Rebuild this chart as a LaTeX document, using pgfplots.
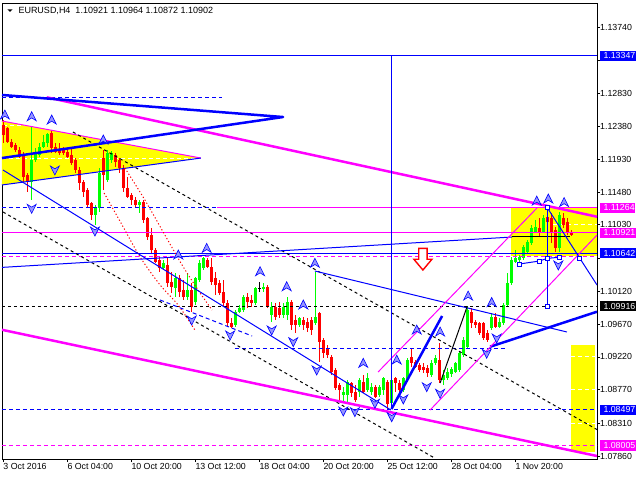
\documentclass[border=0pt]{standalone}
\usepackage{fontspec}
\setmainfont{Liberation Sans}
\usepackage{pgfplots}
\usepackage{pgfplotstable}
\pgfplotsset{compat=1.18}

\definecolor{mtblue}{RGB}{0,0,255}
\definecolor{mtmag}{RGB}{255,0,255}
\definecolor{mtgreen}{RGB}{0,255,0}
\definecolor{mtred}{RGB}{255,0,0}
\definecolor{mtyellow}{RGB}{255,255,0}
\definecolor{fracfill}{RGB}{150,150,255}

% fractal arrows
\pgfdeclareplotmark{fup}{%
  \pgfpathmoveto{\pgfqpoint{0pt}{5pt}}%
  \pgfpathlineto{\pgfqpoint{4.5pt}{-4pt}}%
  \pgfpathlineto{\pgfqpoint{0pt}{-1.2pt}}%
  \pgfpathlineto{\pgfqpoint{-4.5pt}{-4pt}}%
  \pgfpathclose
  \pgfusepathqfillstroke}
\pgfdeclareplotmark{fdown}{%
  \pgfpathmoveto{\pgfqpoint{0pt}{-5pt}}%
  \pgfpathlineto{\pgfqpoint{4.5pt}{4pt}}%
  \pgfpathlineto{\pgfqpoint{0pt}{1.2pt}}%
  \pgfpathlineto{\pgfqpoint{-4.5pt}{4pt}}%
  \pgfpathclose
  \pgfusepathqfillstroke}

% EURUSD H4 bars: index, open, high, low, close
\pgfplotstableread{
i o h l c
0 1.12398 1.12466 1.12151 1.12261
1 1.12356 1.12370 1.12151 1.12164
2 1.12164 1.12206 1.12082 1.12096
3 1.12124 1.12151 1.12028 1.12055
4 1.12055 1.12096 1.11945 1.11959
5 1.11987 1.12028 1.11617 1.11685
6 1.11713 1.11740 1.11480 1.11617
12 1.12288 1.12315 1.12014 1.12082
13 1.12096 1.12151 1.12014 1.12028
14 1.12069 1.12151 1.11987 1.12014
15 1.12069 1.12096 1.11987 1.12014
16 1.12028 1.12082 1.11945 1.11959
17 1.11987 1.12096 1.11850 1.11877
18 1.11918 1.11945 1.11740 1.11781
19 1.11781 1.11822 1.11507 1.11603
20 1.11617 1.11644 1.11411 1.11480
21 1.11507 1.11534 1.11274 1.11302
22 1.11329 1.11343 1.11096 1.11165
25 1.11945 1.12055 1.11507 1.11713
28 1.11987 1.12014 1.11822 1.11891
29 1.11918 1.11945 1.11740 1.11808
30 1.11808 1.11850 1.11480 1.11534
31 1.11534 1.11685 1.11397 1.11411
32 1.11439 1.11466 1.11302 1.11370
33 1.11370 1.11411 1.11274 1.11302
35 1.11343 1.11370 1.11055 1.11096
36 1.11124 1.11137 1.10822 1.10864
37 1.10891 1.10987 1.10644 1.10685
38 1.10685 1.10713 1.10507 1.10521
39 1.10548 1.10590 1.10384 1.10439
41 1.10480 1.10590 1.10179 1.10233
42 1.10247 1.10384 1.10096 1.10179
44 1.10302 1.10343 1.10042 1.10110
45 1.10137 1.10274 1.10000 1.10042
47 1.10137 1.10233 1.09836 1.09904
51 1.10548 1.10576 1.10439 1.10453
52 1.10453 1.10576 1.10206 1.10247
53 1.10302 1.10384 1.10069 1.10206
54 1.10233 1.10274 1.10069 1.10096
55 1.10110 1.10274 1.09904 1.09959
56 1.09959 1.10000 1.09630 1.09685
57 1.09685 1.09753 1.09616 1.09630
61 1.10042 1.10096 1.09891 1.09973
62 1.10000 1.10069 1.09904 1.09959
66 1.10179 1.10206 1.09891 1.09904
68 1.09904 1.09959 1.09726 1.09767
69 1.09891 1.09973 1.09753 1.09795
72 1.09973 1.10000 1.09589 1.09658
73 1.09726 1.09795 1.09548 1.09658
75 1.09726 1.09767 1.09589 1.09658
76 1.09699 1.09753 1.09562 1.09616
77 1.09726 1.09767 1.09521 1.09589
79 1.09822 1.09836 1.09151 1.09425
80 1.09452 1.09479 1.09205 1.09274
81 1.09342 1.09384 1.09205 1.09247
82 1.09219 1.09247 1.08973 1.09014
83 1.09041 1.09068 1.08767 1.08794
84 1.08836 1.08863 1.08603 1.08767
87 1.08863 1.08877 1.08671 1.08726
88 1.08740 1.08836 1.08603 1.08630
90 1.08877 1.08973 1.08726 1.08740
93 1.08808 1.08836 1.08657 1.08671
96 1.08877 1.08904 1.08493 1.08575
98 1.08931 1.08945 1.08740 1.08863
99 1.08863 1.08904 1.08740 1.08767
102 1.09219 1.09342 1.09082 1.09137
103 1.09151 1.09178 1.09068 1.09082
104 1.09110 1.09137 1.09014 1.09041
105 1.09082 1.09137 1.09000 1.09041
106 1.09068 1.09110 1.08945 1.09000
109 1.09178 1.09411 1.08863 1.08904
117 1.09836 1.09891 1.09616 1.09685
118 1.09699 1.09726 1.09616 1.09658
119 1.09685 1.09699 1.09521 1.09548
120 1.09685 1.09699 1.09452 1.09479
121 1.09548 1.09589 1.09425 1.09452
123 1.09767 1.09822 1.09616 1.09630
134 1.10987 1.11124 1.10864 1.10918
136 1.11137 1.11264 1.11055 1.11069
137 1.11124 1.11192 1.10781 1.10918
138 1.10959 1.11001 1.10658 1.10713
140 1.11124 1.11192 1.10987 1.11028
141 1.11069 1.11124 1.10891 1.10932
142 1.10921 1.10964 1.10872 1.10902
}\bear

\pgfplotstableread{
i o h l c
7 1.11617 1.12370 1.11370 1.11918
8 1.11918 1.12082 1.11891 1.12028
9 1.11987 1.12151 1.11959 1.12096
10 1.12096 1.12261 1.12082 1.12164
11 1.12151 1.12288 1.12096 1.12274
23 1.11165 1.11302 1.11028 1.11274
24 1.11260 1.11808 1.11206 1.11740
26 1.11644 1.12055 1.11617 1.12014
27 1.11918 1.12041 1.11877 1.12014
34 1.11302 1.11370 1.11192 1.11343
40 1.10439 1.10548 1.10411 1.10507
43 1.10165 1.10370 1.10042 1.10302
46 1.10042 1.10370 1.10000 1.10137
48 1.09973 1.10316 1.09932 1.10302
49 1.10274 1.10548 1.10247 1.10507
50 1.10439 1.10590 1.10411 1.10576
58 1.09658 1.09863 1.09630 1.09836
59 1.09836 1.09932 1.09822 1.09891
60 1.09863 1.10069 1.09836 1.10042
63 1.09959 1.10179 1.09932 1.10165
65 1.10151 1.10233 1.10110 1.10179
67 1.09795 1.09973 1.09699 1.09904
70 1.09795 1.09959 1.09753 1.09904
71 1.09795 1.10042 1.09726 1.09973
74 1.09658 1.09767 1.09630 1.09753
78 1.09685 1.10384 1.09658 1.09767
85 1.08699 1.08808 1.08589 1.08740
86 1.08699 1.08904 1.08603 1.08877
89 1.08740 1.08931 1.08671 1.08904
91 1.08767 1.09000 1.08740 1.08931
92 1.08740 1.08863 1.08699 1.08808
94 1.08699 1.08836 1.08671 1.08808
95 1.08767 1.08945 1.08699 1.08931
97 1.08589 1.08945 1.08520 1.08904
100 1.08767 1.08945 1.08740 1.08931
101 1.08904 1.09205 1.08877 1.09178
107 1.08973 1.09178 1.08945 1.09137
108 1.09137 1.09247 1.09110 1.09205
110 1.08904 1.09041 1.08836 1.08973
111 1.08931 1.09068 1.08904 1.09014
112 1.08986 1.09082 1.08945 1.09055
113 1.09014 1.09151 1.09000 1.09137
114 1.09041 1.09288 1.09014 1.09274
115 1.09247 1.09493 1.09219 1.09452
116 1.09356 1.09916 1.09342 1.09863
122 1.09616 1.09822 1.09589 1.09767
124 1.09630 1.09753 1.09616 1.09699
125 1.09685 1.09959 1.09658 1.09932
126 1.09932 1.10370 1.09904 1.10233
127 1.10233 1.10590 1.10206 1.10548
128 1.10521 1.10685 1.10507 1.10576
129 1.10548 1.10617 1.10521 1.10590
130 1.10576 1.10754 1.10548 1.10727
131 1.10658 1.10822 1.10644 1.10795
132 1.10781 1.11028 1.10754 1.10987
133 1.10932 1.11096 1.10918 1.11001
135 1.10932 1.11165 1.10918 1.11124
139 1.10713 1.11206 1.10658 1.11165
}\bull

\pgfplotstableread{
i o h l c
64 1.10165 1.10247 1.10110 1.10165
}\doji

% wick and body of every bar in a table
\newcommand{\candles}[2]{%
  \addplot[draw=none, mark=none, forget plot,
    error bars/.cd, y dir=both, y explicit, error mark=none,
    error bar style={draw=#2, solid, line width=1pt}]
    table[x=i, y expr={(\thisrow{h}+\thisrow{l})/2},
          y error expr={(\thisrow{h}-\thisrow{l})/2}] {#1};
  \addplot[draw=none, mark=none, forget plot,
    error bars/.cd, y dir=both, y explicit, error mark=none,
    error bar style={draw=#2, solid, line width=3pt}]
    table[x=i, y expr={(\thisrow{o}+\thisrow{c})/2},
          y error expr={max(abs(\thisrow{c}-\thisrow{o})/2,0.00004)}] {#1};
}

\newcommand{\lbl}[3]{% price tag on the scale
  \node[fill=#2, text=white, anchor=west, inner sep=0pt, minimum height=10.3pt,
        font=\fontsize{8.8}{10}\selectfont, xshift=2.3pt]
    at (axis cs:148.425,#1) {\hspace*{4pt}#3\hspace*{0.6pt}};}

\begin{document}
\begin{tikzpicture}
\path[use as bounding box] (0,0) rectangle (640pt,480pt);
\begin{axis}[
  at={(2pt,21pt)}, anchor=south west,
  scale only axis, width=595pt, height=456pt,
  xmin=-0.325, xmax=148.425, ymin=1.07822, ymax=1.14069,
  clip mode=individual,
  axis line style={black, line width=0.8pt},
  xtick pos=left, ytick pos=right, yticklabel pos=right,
  tick align=outside, major tick length=3pt,
  tick style={black, line width=0.8pt},
  scaled y ticks=false,
  xtick={0,16,32,48,64,80,96,112,128},
  xticklabels={3 Oct 2016, 6 Oct 04:00, 10 Oct 20:00, 13 Oct 12:00, 18 Oct 04:00, 20 Oct 20:00, 25 Oct 12:00, 28 Oct 04:00, 1 Nov 20:00},
  ytick={1.07860,1.08310,1.08770,1.09220,1.09670,1.10120,1.10570,1.11030,1.11480,1.11930,1.12380,1.12830,1.13280,1.13740},
  yticklabels={1.07860,1.08310,1.08770,1.09220,1.09670,1.10120,{},1.11030,1.11480,1.11930,1.12380,1.12830,{},1.13740},
  ticklabel style={font=\fontsize{8.8}{10}\selectfont},
  xticklabel style={anchor=north west, inner sep=0pt, yshift=-1pt},
  yticklabel style={anchor=west, inner sep=0pt},
]
% yellow zones
\addplot[fill=mtyellow, draw=none, forget plot] coordinates {(-0.325,1.12452) (49.4,1.11945) (-0.325,1.11576)} -- cycle;
\addplot[fill=mtyellow, draw=none, forget plot] coordinates {(126.9,1.11264) (148.425,1.11264) (148.425,1.10600) (126.9,1.10600)} -- cycle;
\addplot[fill=mtyellow, draw=none, forget plot] coordinates {(141.9,1.09384) (148.0,1.09384) (148.0,1.07922) (141.9,1.07922)} -- cycle;
\addplot[white, dash pattern=on 4pt off 3pt, line width=1pt] coordinates {(-0.325,1.11941) (47.9,1.11941)};
\addplot[white, dash pattern=on 4pt off 3pt, line width=1pt] coordinates {(-0.075,1.12384) (9.2,1.12384)};
\addplot[white, dash pattern=on 4pt off 3pt, line width=1pt] coordinates {(137.4,1.11028) (148.425,1.11028)};
\addplot[white, dash pattern=on 4pt off 3pt, line width=1pt] coordinates {(141.9,1.09220) (148.0,1.09220)};
\addplot[white, dash pattern=on 4pt off 3pt, line width=1pt] coordinates {(141.9,1.08770) (148.0,1.08770)};
\addplot[white, dash pattern=on 4pt off 3pt, line width=1pt] coordinates {(141.9,1.08310) (148.0,1.08310)};

% bars
\candles{\bear}{mtred}
\candles{\bull}{mtgreen}
\candles{\doji}{black}

% horizontal levels
\addplot[mtblue, line width=1pt] coordinates {(-0.325,1.13347) (148.425,1.13347)};
\addplot[mtblue, dash pattern=on 4pt off 3pt, line width=1pt] coordinates {(-0.325,1.12777) (54.6,1.12777)};
\addplot[mtblue, dash pattern=on 4pt off 3pt, line width=1pt] coordinates {(-0.325,1.11264) (107.2,1.11264)};
\addplot[mtmag, line width=1pt] coordinates {(53.4,1.11264) (148.425,1.11264)};
\addplot[mtmag, line width=1pt] coordinates {(-0.325,1.10921) (148.425,1.10921)};
\addplot[mtblue, line width=1pt] coordinates {(-0.325,1.10642) (148.425,1.10642)};
\addplot[mtmag, dash pattern=on 4pt off 3pt, line width=1pt] coordinates {(-0.325,1.10603) (148.425,1.10603)};
\addplot[black, dash pattern=on 3pt off 3pt, line width=1pt] coordinates {(-0.325,1.09916) (148.425,1.09916)};
\addplot[mtblue, dash pattern=on 4pt off 3pt, line width=1pt] coordinates {(57.9,1.09336) (125.9,1.09336)};
\addplot[mtblue, dash pattern=on 4pt off 3pt, line width=1pt] coordinates {(-0.325,1.08497) (148.425,1.08497)};
\addplot[mtmag, dash pattern=on 4pt off 3pt, line width=1pt] coordinates {(-0.325,1.08005) (148.425,1.08005)};

% triangle edges
\addplot[mtmag, line width=1pt] coordinates {(-0.325,1.12452) (49.4,1.11945)};
\addplot[mtblue, line width=1pt] coordinates {(-0.325,1.11576) (49.4,1.11945)};

% black dashed channel
\addplot[black, dash pattern=on 3pt off 3pt, line width=1pt] coordinates {(17.4,1.12302) (148.425,1.08225)};
\addplot[black, dash pattern=on 3pt off 3pt, line width=1pt] coordinates {(-0.075,1.11206) (108,1.07830)};

% red dotted arcs
\addplot[mtred, dash pattern=on 1.2pt off 2.2pt, line width=1pt, smooth] coordinates {(25.2,1.11466) (29.7,1.11028) (34.2,1.10589) (39.2,1.10206) (43.7,1.09932) (47.9,1.09589)};
\addplot[mtred, dash pattern=on 1.2pt off 2.2pt, line width=1pt, smooth] coordinates {(30.4,1.11808) (35.4,1.11370) (40.4,1.10890) (44.7,1.10480) (48.7,1.10137) (52.2,1.09863)};
\addplot[mtblue, dash pattern=on 4pt off 3pt, line width=1pt] coordinates {(39.2,1.10000) (62.2,1.09507)};

% trend lines
\addplot[mtmag, line width=2.5pt] coordinates {(10.85,1.12777) (148.425,1.11141)};
\addplot[mtmag, line width=2.5pt] coordinates {(-0.325,1.09592) (148.425,1.07863)};
\addplot[mtblue, line width=2.5pt, line join=round] coordinates {(-0.325,1.12809) (69.93,1.12507) (-0.325,1.11945)};
\addplot[mtblue, line width=1pt] coordinates {(-0.325,1.10447) (127.2,1.10863)};
\addplot[black, line width=1pt] coordinates {(127.2,1.10870) (141.7,1.10870)};
\addplot[mtblue, line width=1pt] coordinates {(-0.075,1.11781) (96.9,1.08493)};
\addplot[mtblue, line width=1pt] coordinates {(77.9,1.10397) (140.9,1.09562)};
\addplot[mtblue, line width=2.5pt] coordinates {(121.7,1.09360) (148.425,1.09840)};
\addplot[mtblue, line width=2.5pt] coordinates {(97.05,1.08507) (109.7,1.09781)};
\addplot[black, line width=1pt] coordinates {(109.2,1.08863) (116,1.09916)};
\addplot[mtmag, line width=1pt] coordinates {(93.7,1.09014) (133.4,1.11260)};
\addplot[mtmag, line width=1pt] coordinates {(106.7,1.08493) (148.425,1.10890)};
\addplot[mtblue, line width=1pt] coordinates {(97.05,1.13347) (97.05,1.08520)};

% last swing structure
\addplot[mtblue, line width=1pt] coordinates {(136,1.11264) (136,1.09916)};
\addplot[mtblue, line width=1pt] coordinates {(136,1.11264) (148.425,1.10206)};
\addplot[mtblue, line width=1pt] coordinates {(129,1.10493) (134,1.10534) (136,1.10571) (139,1.10585)};
\addplot[only marks, mark=square*, mark size=2pt, mark options={fill=white, draw=mtblue, line width=0.8pt}] coordinates {(136,1.11264) (136,1.10571) (136,1.09916) (129,1.10493) (134,1.10534) (139,1.10585) (144,1.10571)};

% fractals
\addplot[only marks, mark=fup, mark options={fill=fracfill, draw=mtblue, line width=0.6pt}] coordinates {
(0.4,1.12535) (7.1,1.12511) (12.1,1.12466) (25.0,1.12192) (43.75,1.10617) (50.85,1.10708)
(64.2,1.10388) (70.85,1.10182) (77.9,1.10503) (75.0,1.09932) (90.0,1.09133) (98.35,1.09178)
(103.35,1.09589) (109.2,1.09562) (116.2,1.10055) (122.1,1.09966) (133.35,1.11356) (136.25,1.11384) (140.2,1.11336)};
\addplot[only marks, mark=fdown, mark options={fill=fracfill, draw=mtblue, line width=0.6pt}] coordinates {
(7.1,1.11256) (12.9,1.11781) (22.9,1.10945) (47.1,1.09726) (56.7,1.09521) (67.1,1.09589)
(72.5,1.09429) (78.35,1.09041) (85.0,1.08479) (87.9,1.08470) (92.9,1.08585) (97.1,1.08401)
(100.0,1.08644) (105.85,1.08812) (109.2,1.08722) (120.85,1.09270) (123.35,1.09479) (138.75,1.10480)};

% sell signal arrow
\addplot[mtred, fill=white, line width=1.4pt] coordinates {(103.85,1.10708) (105.95,1.10708) (105.95,1.10558) (107.15,1.10558) (104.9,1.10411) (102.65,1.10558) (103.85,1.10558)} -- cycle;

% price tags
\lbl{1.13347}{mtblue}{1.13347}
\lbl{1.11264}{mtmag}{1.11264}
\lbl{1.10921}{mtmag}{1.10921}
\lbl{1.10642}{mtblue}{1.10642}
\lbl{1.09916}{black}{1.09916}
\lbl{1.08497}{mtblue}{1.08497}
\lbl{1.08005}{mtmag}{1.08005}
\end{axis}
\fill (7.3pt,470.7pt) -- (12.7pt,470.7pt) -- (10pt,468pt) -- cycle;
\node[anchor=west, inner sep=0pt, font=\fontsize{9}{11}\selectfont] at (18.3pt,469.3pt) {EURUSD,H4\ \ 1.10921 1.10964 1.10872 1.10902};
\end{tikzpicture}
\end{document}
